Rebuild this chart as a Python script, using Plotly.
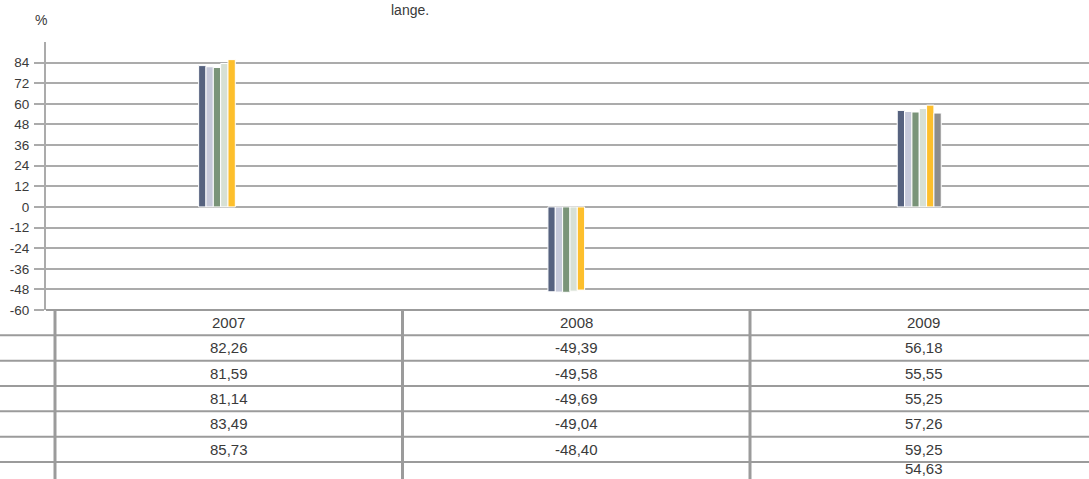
import plotly.graph_objects as go

# ---- data ----
years = ["2007", "2008", "2009"]
s1 = [82.26, -49.39, 56.18]
s2 = [81.59, -49.58, 55.55]
s3 = [81.14, -49.69, 55.25]
s4 = [83.49, -49.04, 57.26]
s5 = [85.73, -48.40, 59.25]
s6 = [None, None, 54.63]
series = [s1, s2, s3, s4, s5, s6]
colors = ["#56627f", "#c6c9da", "#7a9479", "#d7e0d4", "#fdbf2c", "#8d8d8d"]
y_ticks = [-60, -48, -36, -24, -12, 0, 12, 24, 36, 48, 60, 72, 84]
title_text = "lange."
unit_text = "%"

# ---- layout geometry ----
W, H = 1089, 479
ML, MT = 46, 42
plot_w = W - ML
paper_h = H - MT
table_top_px = 310
row_h = 25.33
d = (H - table_top_px) / paper_h          # split between chart and table
n_rows_visible = (H - table_top_px) / row_h


def px_x(p):
    return (p - ML) / plot_w


def px_y(p):
    return (H - p) / paper_h


def row_to_paper(v):
    return d * (n_rows_visible - v) / n_rows_visible


fig = go.Figure()
for vals, col in zip(series, colors):
    fig.add_trace(go.Bar(
        x=years, y=vals, marker=dict(color=col, line=dict(color="white", width=1)),
        showlegend=False, xaxis="x", yaxis="y",
    ))

grid_col = "#ababab"
line_col = "#9b9b9b"
text_col = "#3a3a3a"
font = "Liberation Sans, Arial, sans-serif"

# table x-axis: column boundaries at 55, 403, 750 px
col_w = 347.5
col0 = 55
x2_lo = -0.5 - (col0 - ML) / col_w
x2_hi = -0.5 + (W - col0) / col_w

shapes = []
for r in range(0, 7):
    x0 = 0 if r == 0 else px_x(0)
    shapes.append(dict(type="line", xref="paper", yref="paper",
                       x0=x0, x1=1, y0=row_to_paper(r), y1=row_to_paper(r),
                       line=dict(color=line_col, width=2)))
for b in [-0.5, 0.5, 1.5]:
    shapes.append(dict(type="line", xref="x2", yref="paper",
                       x0=b, x1=b, y0=row_to_paper(0), y1=row_to_paper(n_rows_visible),
                       line=dict(color=line_col, width=3)))

annotations = []
for i, yr in enumerate(years):
    annotations.append(dict(xref="x2", yref="y2", x=i, y=0.5, text=yr, showarrow=False,
                            font=dict(family=font, size=15, color=text_col)))
    for r, vals in enumerate(series):
        v = vals[i]
        if v is None:
            continue
        yy = r + 1.5
        yanchor = "middle"
        if r == 5:
            # last visible row is cut by the bottom edge: keep its box inside the page
            yy = n_rows_visible
            yanchor = "bottom"
        annotations.append(dict(xref="x2", yref="y2", x=i, y=yy, yanchor=yanchor,
                                text=f"{v:.2f}".replace(".", ","), showarrow=False,
                                font=dict(family=font, size=15, color=text_col)))

annotations.append(dict(xref="paper", yref="paper", x=px_x(410), y=px_y(0),
                        text=title_text, showarrow=False, xanchor="center", yanchor="top",
                        font=dict(family=font, size=14, color=text_col)))
annotations.append(dict(xref="paper", yref="paper", x=px_x(41), y=px_y(19.5),
                        text=unit_text, showarrow=False, xanchor="center", yanchor="middle",
                        font=dict(family=font, size=14, color=text_col)))

fig.update_layout(
    width=W, height=H,
    margin=dict(l=ML, r=0, t=MT, b=0, pad=0),
    paper_bgcolor="white", plot_bgcolor="white",
    barmode="group", bargap=0.874, bargroupgap=0,
    xaxis=dict(type="category", range=[-0.5, -0.5 + plot_w / 349.3], visible=False,
               domain=[0, 1], anchor="y"),
    yaxis=dict(domain=[d, 1], range=[-60, 96], tickvals=y_ticks,
               ticktext=[str(t) for t in y_ticks],
               showgrid=True, gridcolor=grid_col, gridwidth=2, zeroline=False,
               showline=True, linecolor=grid_col, linewidth=2,
               ticks="outside", ticklen=10, tickwidth=2, tickcolor=grid_col,
               ticklabelstandoff=2, automargin=False,
               tickfont=dict(family=font, size=13.5, color=text_col), anchor="x"),
    xaxis2=dict(range=[x2_lo, x2_hi], visible=False, domain=[0, 1], anchor="y2"),
    yaxis2=dict(domain=[0, d], range=[n_rows_visible, 0], visible=False, anchor="x2"),
    shapes=shapes, annotations=annotations,
)

fig.write_html(
    "out.html",
    config={"displayModeBar": False},
    post_script="document.body.style.margin='0';",
)
